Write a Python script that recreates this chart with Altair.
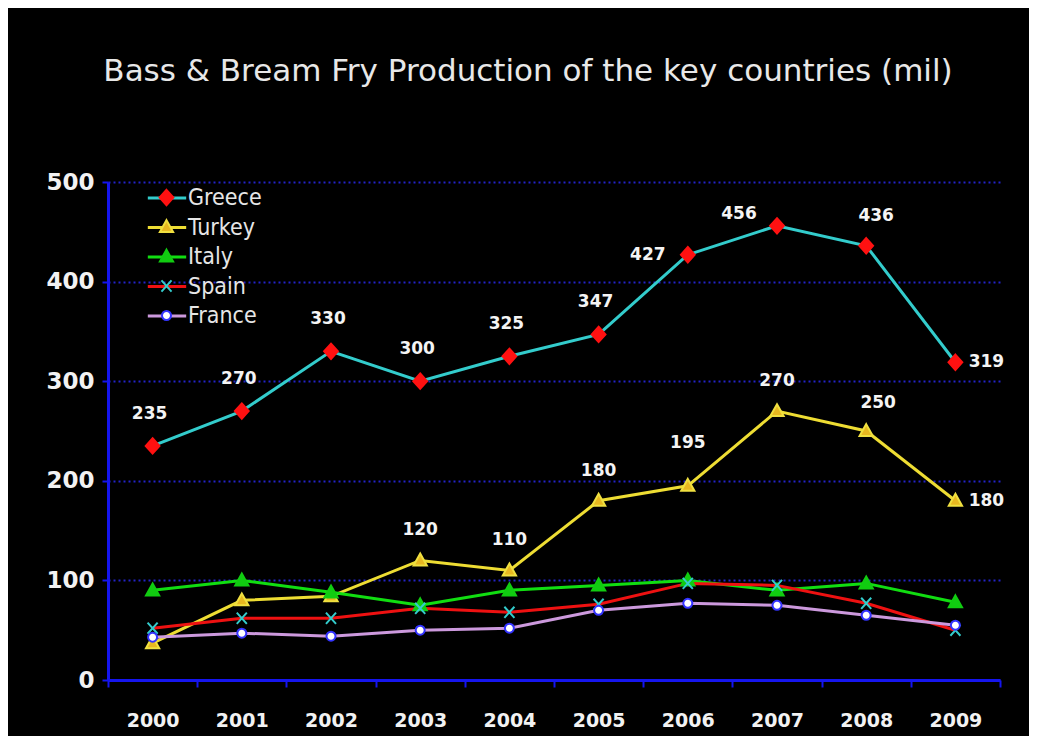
import altair as alt
import pandas as pd

years = ["2000", "2001", "2002", "2003", "2004", "2005", "2006", "2007", "2008", "2009"]
countries = ["Greece", "Turkey", "Italy", "Spain", "France"]
greece = [235, 270, 330, 300, 325, 347, 427, 456, 436, 319]
turkey = [37, 80, 84, 120, 110, 180, 195, 270, 250, 180]
italy = [90, 100, 88, 75, 90, 95, 100, 90, 97, 78]
spain = [52, 62, 62, 72, 68, 76, 97, 95, 77, 50]
france = [43, 47, 44, 50, 52, 70, 77, 75, 65, 55]
y_ticks = [0, 100, 200, 300, 400, 500]

series = {"Greece": greece, "Turkey": turkey, "Italy": italy, "Spain": spain, "France": france}
rows = []
for c in countries:
    for yr, v in zip(years, series[c]):
        rows.append({"country": c, "series": c, "year": yr, "value": v})
df = pd.DataFrame(rows)

# styles
line_colors = ["#33cccc", "#eedd33", "#11dd11", "#ee1111", "#cc99dd"]
marker_fill = ["#ff1111", "#e8b820", "#11cc11", "#33cccc", "#ffffff"]
marker_stroke = ["#ff1111", "#f0e040", "#11cc11", "#33cccc", "#3333ff"]
marker_paths = [
    "M0,-0.58L0.52,0L0,0.58L-0.52,0Z",
    "M0,-0.52L0.5,0.38L-0.5,0.38Z",
    "M0,-0.52L0.5,0.38L-0.5,0.38Z",
    "M-0.38,-0.42L0.38,0.42M-0.38,0.42L0.38,-0.42",
    "M0.34,0A0.34,0.34 0 1,1 -0.34,0A0.34,0.34 0 1,1 0.34,0Z",
]
BLUE = "#1515ee"
FONT = "DejaVu Sans"
LEG_FONT = "DejaVu Sans Condensed, Liberation Sans Narrow, DejaVu Sans"
LEG_X, LEG_Y = 44, 1

x_enc = alt.X(
    "year:O",
    scale=alt.Scale(type="band", domain=years, paddingInner=0, paddingOuter=0),
    axis=alt.Axis(
        title=None, labelAngle=0, labelFont=FONT, labelFontSize=19, labelFontWeight="bold",
        labelColor="#f2f2f2", labelPadding=24, domainColor=BLUE, domainWidth=3,
        tickColor=BLUE, tickWidth=2, tickSize=7, tickBand="extent", grid=False,
    ),
)
y_enc = alt.Y(
    "value:Q",
    scale=alt.Scale(domain=[0, 500], nice=False),
    axis=alt.Axis(
        title=None, values=y_ticks, labelFont=FONT, labelFontSize=23, labelFontWeight="bold",
        labelColor="#f2f2f2", labelPadding=8, domainColor=BLUE, domainWidth=3,
        tickColor=BLUE, tickWidth=2, tickSize=6, grid=True, gridColor="#2323c8",
        gridDash=[2, 3], gridWidth=2,
    ),
)

line_legend = alt.Legend(
    title=None, orient="none", legendX=LEG_X, legendY=LEG_Y, padding=0,
    symbolType="M-1.45,0L1.45,0", symbolSize=700, symbolStrokeWidth=3,
    labelFont=LEG_FONT, labelFontSize=23, labelColor="#e6e6e6", labelOffset=6, rowPadding=2.5,
)
lines = alt.Chart(df).mark_line(strokeWidth=3).encode(
    x=x_enc, y=y_enc,
    color=alt.Color("country:N", scale=alt.Scale(range=line_colors),
                    legend=line_legend, sort=countries),
)

pt_legend = alt.Legend(
    title=None, orient="none", legendX=LEG_X, legendY=LEG_Y, padding=0,
    symbolSize=700, symbolStrokeWidth=2,
    labelFont=LEG_FONT, labelFontSize=23, labelColor="transparent", labelOffset=6, rowPadding=2.5,
)
points = alt.Chart(df).mark_point(filled=True, size=700, strokeWidth=2, opacity=1).encode(
    x=x_enc, y=y_enc,
    shape=alt.Shape("series:N", scale=alt.Scale(domain=countries, range=marker_paths), legend=pt_legend),
    fill=alt.Fill("series:N", scale=alt.Scale(domain=countries, range=marker_fill), legend=pt_legend),
    stroke=alt.Stroke("series:N", scale=alt.Scale(domain=countries, range=marker_stroke), legend=pt_legend),
)

# label placement rules (country, years, dx, dy)
placements = [
    ("Greece", ["2000", "2001", "2002", "2003", "2004", "2005"], -3, -32),
    ("Greece", ["2006"], -40, 0),
    ("Greece", ["2007"], -38, -12),
    ("Greece", ["2008"], 10, -30),
    ("Greece", ["2009"], 31, 0),
    ("Turkey", ["2003", "2004", "2005", "2007"], 0, -30),
    ("Turkey", ["2006"], 0, -43),
    ("Turkey", ["2008"], 12, -28),
    ("Turkey", ["2009"], 31, 0),
]
label_layers = []
for c, yrs, dx, dy in placements:
    label_layers.append(
        alt.Chart(df).transform_filter(
            alt.FieldEqualPredicate(field="country", equal=c)
        ).transform_filter(
            alt.FieldOneOfPredicate(field="year", oneOf=yrs)
        ).mark_text(
            font=FONT, fontSize=17, fontWeight="bold", color="#f4f4f4", dx=dx, dy=dy,
        ).encode(x=x_enc, y=y_enc, text=alt.Text("value:Q"))
    )

chart = alt.layer(lines, points, *label_layers).properties(
    width=892, height=498,
    background="black",
    autosize=alt.AutoSizeParams(type="none"),
    padding={"left": 100, "top": 174, "right": 29, "bottom": 56},
    title=alt.TitleParams(
        "Bass & Bream Fry Production of the key countries (mil)",
        font=FONT, fontSize=31, fontWeight="normal", color="#e8e8e8",
        anchor="middle", dx=-26, offset=59, baseline="alphabetic",
    ),
).configure_view(stroke=None)

chart.save("out.html", embed_options={"renderer": "svg", "actions": False})
